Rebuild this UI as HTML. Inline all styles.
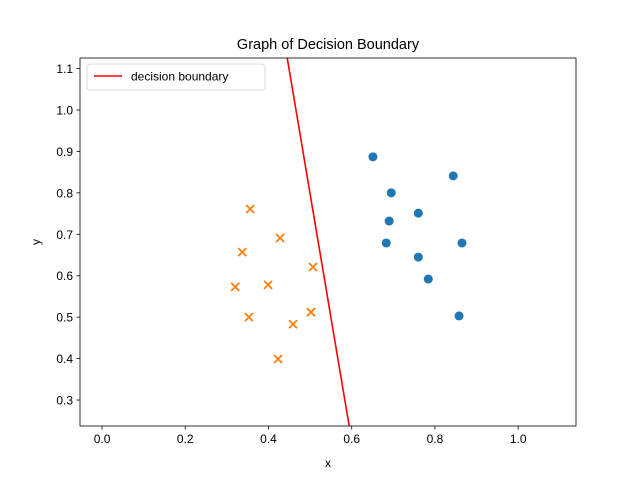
<!DOCTYPE html>
<html><head><meta charset="utf-8"><style>
body{margin:0;background:#fff}
svg{display:block;font-family:"Liberation Sans","DejaVu Sans",sans-serif}
</style></head><body>
<svg id="chart" width="640" height="479" viewBox="0 0 640 479" xmlns="http://www.w3.org/2000/svg">
<rect width="640" height="479" fill="#fff"/>
<text x="328" y="49" text-anchor="middle" font-size="14.5">Graph of Decision Boundary</text>
<g id="plot"></g>
<rect x="80" y="58" width="496" height="368" fill="none" stroke="#000" stroke-width="0.8"/>
<text x="328" y="467" text-anchor="middle" font-size="12">x</text>
<text x="40" y="242" text-anchor="middle" font-size="12" transform="rotate(-90 40 242)">y</text>
<g>
<rect x="87" y="64" width="178" height="26" rx="3" fill="#fff" stroke="#ccc" stroke-width="0.8" opacity="0.9"/>
<line x1="94" y1="76" x2="122" y2="76" stroke="red" stroke-width="1.6"/>
<text x="131" y="80.5" font-size="12">decision boundary</text>
</g>
</svg>
<script>
const xTicks=[0.0,0.2,0.4,0.6,0.8,1.0];
const yTicks=[0.3,0.4,0.5,0.6,0.7,0.8,0.9,1.0,1.1];
const posX=[0.651,0.695,0.690,0.683,0.760,0.760,0.784,0.844,0.865,0.858];
const posY=[0.887,0.800,0.732,0.679,0.751,0.645,0.592,0.841,0.679,0.503];
const negX=[0.356,0.337,0.428,0.320,0.399,0.507,0.353,0.459,0.502,0.423];
const negY=[0.761,0.657,0.691,0.573,0.578,0.621,0.500,0.483,0.512,0.399];
const lineX=[0.445,0.594];
const lineY=[1.1255,0.237];

const X0=80,X1=576,Y0=58,Y1=426;
const xMin=-0.053,xMax=1.139,yMin=0.2373,yMax=1.1255;
const sx=v=>X0+(v-xMin)/(xMax-xMin)*(X1-X0);
const sy=v=>Y1-(v-yMin)/(yMax-yMin)*(Y1-Y0);
const NS="http://www.w3.org/2000/svg";
const g=document.getElementById('plot');
function mk(t,a){const e=document.createElementNS(NS,t);for(const k in a)e.setAttribute(k,a[k]);g.appendChild(e);return e;}

xTicks.forEach(v=>{
  const x=sx(v);
  const t=mk('line',{x1:x,y1:Y1,x2:x,y2:Y1+3.5,stroke:'#000','stroke-width':0.8});
  
  
  const l=mk('text',{x:x,y:Y1+17,'text-anchor':'middle','font-size':12});
  l.textContent=v.toFixed(1);
  
  
});
yTicks.forEach(v=>{
  const y=sy(v);
  const t=mk('line',{x1:X0-3.5,y1:y,x2:X0,y2:y,stroke:'#000','stroke-width':0.8});
  
  
  const l=mk('text',{x:X0-7,y:y+4.5,'text-anchor':'end','font-size':12});
  l.textContent=v.toFixed(1);
  
  
});

const cp=mk('clipPath',{id:'clip'});
const cr=document.createElementNS(NS,'rect');
cr.setAttribute('x',X0);cr.setAttribute('y',Y0);cr.setAttribute('width',X1-X0);cr.setAttribute('height',Y1-Y0);
cp.appendChild(cr);

const bl=mk('line',{x1:sx(lineX[0]),y1:sy(lineY[0]),x2:sx(lineX[1]),y2:sy(lineY[1]),stroke:'red','stroke-width':1.6,'clip-path':'url(#clip)'});



posX.forEach((v,i)=>{
  const c=mk('circle',{cx:sx(v),cy:sy(posY[i]),r:4.5,fill:'#1f77b4'});
  
  
});
negX.forEach((v,i)=>{
  const x=sx(v),y=sy(negY[i]),s=4;
  const p=mk('path',{d:`M${x-s},${y-s}L${x+s},${y+s}M${x-s},${y+s}L${x+s},${y-s}`,stroke:'#ff7f0e','stroke-width':1.8});
  
  
});
</script>
</body></html>
